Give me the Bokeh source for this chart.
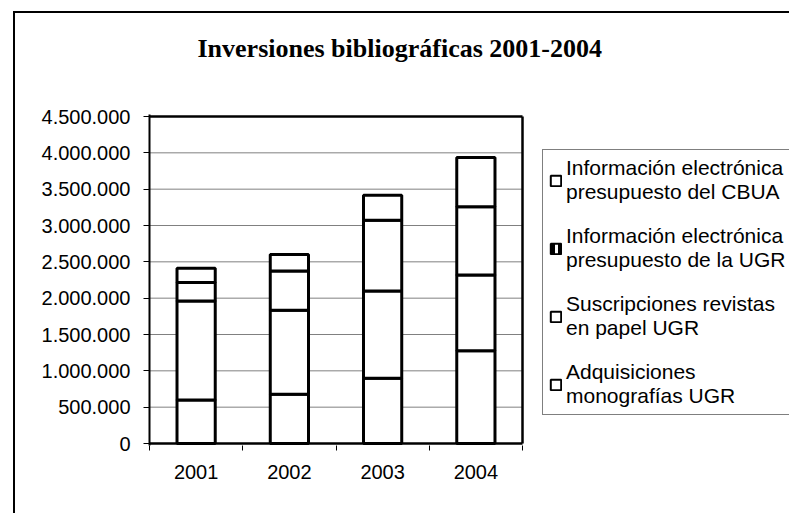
from bokeh.plotting import figure
from bokeh.models import (Range1d, FixedTicker, Legend, LegendItem, ColumnDataSource,
                          InlineStyleSheet, Title)
from bokeh.embed import file_html
from bokeh.resources import INLINE

# ---- data ----
years = ["2001", "2002", "2003", "2004"]
adquisiciones_monografias = [600000, 677000, 898000, 1278000]
suscripciones_papel = [1362000, 1157000, 1202000, 1042000]
electronica_ugr = [252000, 541000, 973000, 937000]
electronica_cbua = [199000, 225000, 345000, 679000]
y_ticks = [0, 500000, 1000000, 1500000, 2000000, 2500000, 3000000, 3500000, 4000000, 4500000]
title_text = "Inversiones bibliográficas 2001-2004"
label_cbua = "Información electrónica\npresupuesto del CBUA"
label_ugr_e = "Información electrónica\npresupuesto de la UGR"
label_susc = "Suscripciones revistas\nen papel UGR"
label_adq = "Adquisiciones\nmonografías UGR"

# ---- layout (pixels) ----
W, H = 789, 513
B_LEFT, B_TOP, B_BOTTOM = 149, 114, 68
PLOT_W, PLOT_H = 373, 327          # visible plot-area box
PAD = 2                            # px of room above/below the plot box
FRAME_W = W - B_LEFT
x_end = len(years) * FRAME_W / PLOT_W
y_top = y_ticks[-1]
y_end = y_top * (1 + PAD / PLOT_H)
y_start = -y_top * PAD / PLOT_H

xpos = [i + 0.5 for i in range(len(years))]
bounds = [i for i in range(len(years) + 1)]

source = ColumnDataSource(dict(
    x=xpos,
    adq=adquisiciones_monografias,
    susc=suscripciones_papel,
    ugr=electronica_ugr,
    cbua=electronica_cbua,
))

css = InlineStyleSheet(css=":host::after { content: ''; position: absolute; left: 13px; top: 11px; "
                           "right: 0; bottom: 0; border-left: 2px solid #000; border-top: 2px solid #000; "
                           "pointer-events: none; z-index: 10; }")

p = figure(width=W, height=H,
           x_range=Range1d(0, x_end), y_range=Range1d(y_start, y_end),
           output_backend="svg", toolbar_location=None,
           min_border_left=B_LEFT, min_border_right=0,
           min_border_top=B_TOP, min_border_bottom=B_BOTTOM,
           stylesheets=[css])
p.title_location = None

# gridlines limited to the plot box
p.segment(x0=0, x1=len(years), y0=y_ticks[1:-1], y1=y_ticks[1:-1],
          line_color="#808080", line_width=1)

p.vbar_stack(["adq", "susc", "ugr", "cbua"], x="x", width=0.41, source=source,
             fill_color="white", line_color="black", line_width=3)

# plot-box border: top, right, bottom
p.segment(x0=[0, len(years), 0], x1=[len(years), len(years), len(years)],
          y0=[y_top, 0, 0], y1=[y_top, y_top, 0],
          line_color="black", line_width=2.5)

# legend dummies (nothing drawn in the plot)
nan = float("nan")
def dummy(**kw):
    return p.rect(x="x", y="y", width=1, height=1,
                  source=ColumnDataSource(dict(x=[nan], y=[nan])), **kw)

r_cbua = dummy(fill_color="white", line_color="black", line_width=2)
r_ugr = dummy(fill_color="black", line_color="black", line_width=2,
              hatch_pattern="|", hatch_color="white", hatch_scale=13, hatch_weight=3)
r_susc = dummy(fill_color="white", line_color="black", line_width=2)
r_adq = dummy(fill_color="white", line_color="black", line_width=2)

legend = Legend(items=[
    LegendItem(label=label_cbua, renderers=[r_cbua]),
    LegendItem(label=label_ugr_e, renderers=[r_ugr]),
    LegendItem(label=label_susc, renderers=[r_susc]),
    LegendItem(label=label_adq, renderers=[r_adq]),
], location=(393, 30))
legend.border_line_color = "black"
legend.border_line_width = 1
legend.background_fill_color = "white"
legend.background_fill_alpha = 1
legend.label_text_font = "Liberation Sans"
legend.label_text_font_size = "21px"
legend.label_text_color = "black"
legend.glyph_width = 13
legend.glyph_height = 13
legend.label_standoff = 4
legend.spacing = 20
legend.padding = 6
legend.margin = 0
p.add_layout(legend)

# title with a spacer below it
spacer = Title(text=" ", text_font_size="10px", standoff=34)
p.add_layout(spacer, "above")
title = Title(text=title_text, text_font="Liberation Serif", text_font_size="26px",
              text_font_style="bold", text_color="black", align="left", offset=48, standoff=10)
p.add_layout(title, "above")

# frame / grid
p.outline_line_color = None
p.xgrid.visible = False
p.ygrid.visible = False
p.background_fill_color = "white"
p.border_fill_color = "white"

# y axis
p.yaxis.ticker = FixedTicker(ticks=y_ticks)
p.yaxis.major_label_overrides = {v: f"{v:,}".replace(",", ".") for v in y_ticks}
p.yaxis.major_label_text_font = "Liberation Sans"
p.yaxis.major_label_text_font_size = "20px"
p.yaxis.major_label_text_color = "black"
p.yaxis.major_tick_out = 6
p.yaxis.major_tick_in = 0
p.yaxis.minor_tick_line_color = None
p.yaxis.axis_line_width = 2
p.yaxis.axis_line_color = "black"
p.yaxis.major_tick_line_color = "black"
p.yaxis.major_label_standoff = 13

# x axis (line drawn as segment above)
p.xaxis.ticker = FixedTicker(ticks=xpos, minor_ticks=bounds)
p.xaxis.major_label_overrides = {x: y for x, y in zip(xpos, years)}
p.xaxis.major_label_text_font = "Liberation Sans"
p.xaxis.major_label_text_font_size = "20px"
p.xaxis.major_label_text_color = "black"
p.xaxis.major_tick_line_color = None
p.xaxis.major_tick_out = 0
p.xaxis.major_tick_in = 0
p.xaxis.minor_tick_out = 5
p.xaxis.minor_tick_in = 0
p.xaxis.minor_tick_line_color = "black"
p.xaxis.axis_line_color = None
p.xaxis.major_label_standoff = 14

open("out.html", "w").write(file_html(p, INLINE))
